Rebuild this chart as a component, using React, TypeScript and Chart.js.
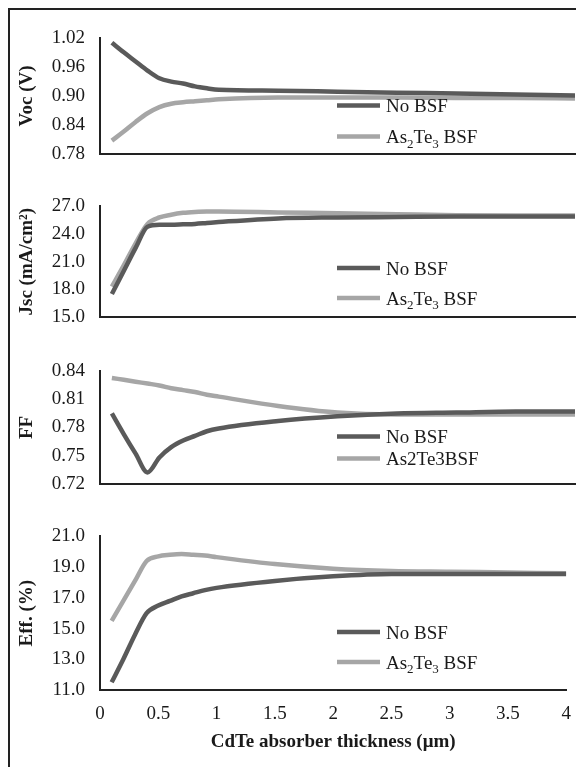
import React, { useEffect, useRef } from "react";
import { Chart, registerables } from "chart.js";

Chart.register(...registerables);

// ---------- data ----------
const thickness = [0.1, 0.2, 0.3, 0.4, 0.5, 0.6, 0.7, 0.8, 0.9, 1.0, 1.5, 2, 2.5, 3, 3.5, 4];
const xTicks = [0, 0.5, 1, 1.5, 2, 2.5, 3, 3.5, 4];

const vocNoBsf = [1.011, 0.991, 0.972, 0.953, 0.937, 0.93, 0.926, 0.92, 0.916, 0.913, 0.911, 0.909, 0.907, 0.905, 0.903, 0.901];
const vocAs2Te3 = [0.807, 0.826, 0.846, 0.864, 0.877, 0.884, 0.887, 0.889, 0.891, 0.893, 0.897, 0.897, 0.897, 0.896, 0.896, 0.895];
const vocTicks = [0.78, 0.84, 0.9, 0.96, 1.02];

const jscNoBsf = [17.5, 20.0, 22.5, 24.8, 25.0, 25.0, 25.05, 25.1, 25.2, 25.3, 25.7, 25.8, 25.85, 25.9, 25.9, 25.9];
const jscAs2Te3 = [18.3, 20.6, 23.0, 25.1, 25.8, 26.1, 26.3, 26.4, 26.45, 26.45, 26.35, 26.25, 26.15, 26.05, 26.0, 26.0];
const jscTicks = [15, 18, 21, 24, 27];

const ffNoBsf = [0.795, 0.773, 0.752, 0.732, 0.748, 0.759, 0.766, 0.771, 0.776, 0.779, 0.787, 0.792, 0.795, 0.796, 0.797, 0.797];
const ffAs2Te3 = [0.833, 0.831, 0.829, 0.827, 0.825, 0.822, 0.82, 0.818, 0.815, 0.813, 0.803, 0.796, 0.794, 0.794, 0.794, 0.794];
const ffTicks = [0.72, 0.75, 0.78, 0.81, 0.84];

const effNoBsf = [11.5, 13.0, 14.6, 16.0, 16.5, 16.8, 17.1, 17.3, 17.5, 17.65, 18.1, 18.4, 18.55, 18.55, 18.55, 18.55];
const effAs2Te3 = [15.5, 16.8, 18.1, 19.4, 19.7, 19.8, 19.85, 19.8, 19.75, 19.65, 19.2, 18.9, 18.75, 18.7, 18.65, 18.6];
const effTicks = [11, 13, 15, 17, 19, 21];

// ---------- styles ----------
const SERIF = "'Liberation Serif', 'Times New Roman', Times, serif";
const DARK = "#5a5a5a";
const LIGHT = "#a6a6a6";
const INK = "#1a1a1a";
const AXIS = "#222222";
const LINE_W = 4.5;

type Part = { text: string; sub?: boolean };

const panelLegend = {
  id: "panelLegend",
  afterDraw(chart: any, _args: any, opts: any) {
    if (!opts || !opts.items) return;
    const { ctx, chartArea } = chart;
    ctx.save();
    opts.items.forEach((it: any, i: number) => {
      const y = chartArea.bottom - opts.rows[i];
      const x0 = chartArea.left + opts.x;
      ctx.strokeStyle = it.color;
      ctx.lineWidth = LINE_W;
      ctx.lineCap = "butt";
      ctx.beginPath();
      ctx.moveTo(x0, y);
      ctx.lineTo(x0 + 43, y);
      ctx.stroke();
      let x = x0 + 49;
      ctx.fillStyle = INK;
      ctx.textBaseline = "alphabetic";
      ctx.textAlign = "left";
      it.parts.forEach((p: Part) => {
        ctx.font = p.sub ? `13px ${SERIF}` : `19px ${SERIF}`;
        ctx.fillText(p.text, x, p.sub ? y + 11 : y + 6.5);
        x += ctx.measureText(p.text).width;
      });
    });
    ctx.restore();
  },
};

const as2te3Sub: Part[] = [
  { text: "As" },
  { text: "2", sub: true },
  { text: "Te" },
  { text: "3", sub: true },
  { text: " BSF" },
];

type PanelCfg = {
  top: number;
  height: number;
  padTop: number;
  padBottom: number;
  dark: number[];
  light: number[];
  ticks: number[];
  decimals: number;
  title: string;
  showX: boolean;
  legendRows: number[];
  lightLabel: Part[];
};

const panels: PanelCfg[] = [
  { top: 2, height: 168, padTop: 16, padBottom: 17, dark: vocNoBsf, light: vocAs2Te3, ticks: vocTicks, decimals: 2, title: "Voc (V)", showX: false, legendRows: [48, 17], lightLabel: as2te3Sub },
  { top: 170, height: 165, padTop: 21, padBottom: 28, dark: jscNoBsf, light: jscAs2Te3, ticks: jscTicks, decimals: 1, title: "Jsc (mA/cm²)", showX: false, legendRows: [49, 19], lightLabel: as2te3Sub },
  { top: 335, height: 165, padTop: 18, padBottom: 23, dark: ffNoBsf, light: ffAs2Te3, ticks: ffTicks, decimals: 2, title: "FF", showX: false, legendRows: [47, 25], lightLabel: [{ text: "As2Te3BSF" }] },
  { top: 500, height: 257, padTop: 19, padBottom: 0, dark: effNoBsf, light: effAs2Te3, ticks: effTicks, decimals: 1, title: "Eff. (%)", showX: true, legendRows: [58, 28], lightLabel: as2te3Sub },
];

function Panel({ cfg }: { cfg: PanelCfg }) {
  const ref = useRef<HTMLCanvasElement | null>(null);
  useEffect(() => {
    if (!ref.current) return;
    const chart = new Chart(ref.current, {
      type: "line",
      data: {
        datasets: [
          {
            label: "No BSF",
            data: thickness.map((x, i) => ({ x, y: cfg.dark[i] })),
            borderColor: DARK,
            backgroundColor: DARK,
            borderWidth: LINE_W,
            pointRadius: 0,
            cubicInterpolationMode: "monotone",
            fill: false,
          },
          {
            label: "As2Te3 BSF",
            data: thickness.map((x, i) => ({ x, y: cfg.light[i] })),
            borderColor: LIGHT,
            backgroundColor: LIGHT,
            borderWidth: LINE_W,
            pointRadius: 0,
            cubicInterpolationMode: "monotone",
            fill: false,
          },
        ],
      },
      options: {
        responsive: false,
        animation: false,
        layout: { padding: { top: cfg.padTop, bottom: cfg.padBottom, left: 2, right: 9 } },
        plugins: {
          legend: { display: false },
          tooltip: { enabled: false },
          panelLegend: {
            x: 237,
            rows: cfg.legendRows,
            items: [
              { color: DARK, parts: [{ text: "No BSF" }] },
              { color: LIGHT, parts: cfg.lightLabel },
            ],
          },
        } as any,
        scales: {
          x: {
            type: "linear",
            min: 0,
            max: 4,
            afterBuildTicks: (s: any) => {
              s.ticks = xTicks.map((v) => ({ value: v }));
            },
            afterFit: (s: any) => {
              s.height = cfg.showX ? 77 : 0;
            },
            ticks: {
              display: cfg.showX,
              autoSkip: false,
              maxRotation: 0,
              padding: 13,
              color: INK,
              font: { family: SERIF, size: 19 },
              callback: (v: any) => String(v),
            },
            grid: { display: false, drawTicks: false },
            border: { display: true, color: AXIS, width: 2 },
            title: {
              display: cfg.showX,
              text: "CdTe absorber thickness (μm)",
              color: INK,
              font: { family: SERIF, size: 19, weight: "bold" },
              padding: { top: 0, bottom: 14 },
            },
          },
          y: {
            type: "linear",
            min: cfg.ticks[0],
            max: cfg.ticks[cfg.ticks.length - 1],
            afterBuildTicks: (s: any) => {
              s.ticks = cfg.ticks.map((v) => ({ value: v }));
            },
            afterFit: (s: any) => {
              s.width = 88;
            },
            ticks: {
              padding: 15,
              color: INK,
              font: { family: SERIF, size: 19 },
              callback: (v: any) => Number(v).toFixed(cfg.decimals),
            },
            grid: { display: false, drawTicks: false },
            border: { display: true, color: AXIS, width: 2 },
            title: {
              display: true,
              text: cfg.title,
              color: INK,
              font: { family: SERIF, size: 19, weight: "bold" },
              padding: { top: 4, bottom: 4 },
            },
          },
        },
      } as any,
      plugins: [panelLegend as any],
    });
    return () => chart.destroy();
  }, [cfg]);
  return (
    <canvas
      ref={ref}
      width={574}
      height={cfg.height}
      style={{ position: "absolute", left: 0, top: cfg.top, display: "block" }}
    />
  );
}

export default function App() {
  useEffect(() => {
    document.documentElement.style.overflow = "hidden";
    document.body.style.overflow = "hidden";
  }, []);
  return (
    <div
      style={{
        position: "relative",
        width: 576,
        height: 759,
        boxSizing: "border-box",
        borderTop: `2px solid ${AXIS}`,
        borderLeft: `2px solid ${AXIS}`,
        background: "#ffffff",
      }}
    >
      {panels.map((p, i) => (
        <Panel key={i} cfg={p} />
      ))}
    </div>
  );
}
